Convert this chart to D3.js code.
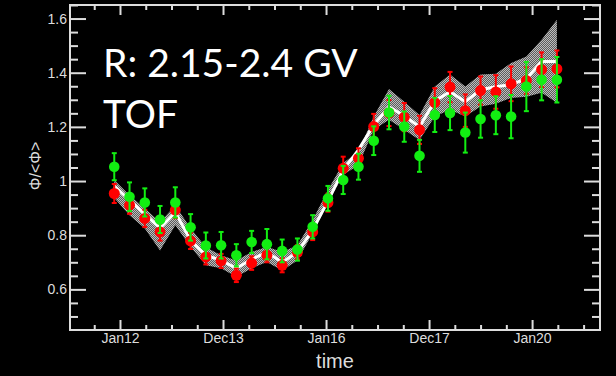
<!DOCTYPE html>
<html>
<head>
<meta charset="utf-8">
<script src="https://cdn.jsdelivr.net/npm/d3@7"></script>
<style>
body{margin:0;background:#000}
svg{display:block}
</style>
</head>
<body>
<svg id="canvas"></svg>
<script>
let width=616,height=376
let margin={left:70,right:16,top:5,bottom:46}

// bin centres in Bartels rotations (4 BR per bin)
const bartels = [2428.5,2432.5,2436.5,2440.5,2444.5,2448.5,2452.5,2456.5,2460.5,2464.5,
  2468.5,2472.5,2476.5,2480.5,2484.5,2488.5,2492.5,2496.5,2500.5,2504.5,
  2508.5,2512.5,2516.5,2520.5,2524.5,2528.5,2532.5,2536.5,2540.5,2544.5]

// red points
const redFlux = [0.954,0.911,0.862,0.812,0.893,0.779,0.720,0.705,0.652,0.697,
  0.726,0.689,0.737,0.812,0.920,1.047,1.084,1.201,1.251,1.236,
  1.189,1.290,1.347,1.260,1.334,1.329,1.359,1.371,1.411,1.414]
const redErr = [0.035,0.032,0.032,0.032,0.030,0.030,0.028,0.026,0.025,0.025,
  0.026,0.026,0.026,0.030,0.033,0.043,0.037,0.047,0.048,0.052,
  0.052,0.053,0.056,0.060,0.052,0.062,0.064,0.049,0.064,0.068]

// green points
const greenFlux = [1.053,0.942,0.921,0.858,0.921,0.829,0.762,0.763,0.726,0.775,
  0.767,0.742,0.747,0.831,0.936,1.004,1.053,1.149,1.253,1.201,
  1.093,1.244,1.251,1.179,1.229,1.243,1.238,1.349,1.374,1.374]
const greenErr = [0.050,0.053,0.052,0.050,0.056,0.049,0.048,0.049,0.041,0.041,
  0.056,0.042,0.041,0.043,0.046,0.052,0.048,0.053,0.062,0.056,
  0.059,0.063,0.063,0.074,0.069,0.070,0.080,0.091,0.076,0.084]

// white curve and grey band
const modelMid = [0.981,0.930,0.878,0.826,0.885,0.781,0.726,0.707,0.678,0.711,
  0.737,0.700,0.737,0.819,0.926,1.041,1.115,1.207,1.274,1.241,
  1.200,1.296,1.330,1.293,1.337,1.348,1.356,1.378,1.441,1.441]
const bandHigh = [1.004,0.948,0.900,0.848,0.911,0.826,0.756,0.726,0.707,0.738,
  0.757,0.738,0.763,0.856,0.967,1.067,1.109,1.238,1.340,1.293,
  1.244,1.349,1.393,1.349,1.393,1.396,1.436,1.460,1.522,1.596]
const bandLow = [0.937,0.874,0.825,0.744,0.837,0.757,0.689,0.678,0.646,0.678,
  0.701,0.670,0.707,0.807,0.919,1.022,1.059,1.189,1.226,1.189,
  1.152,1.238,1.263,1.238,1.275,1.285,1.307,1.311,1.326,1.289]

const xTicks = [2430,2457,2484,2511,2538]
const xTickLabels = ["Jan12","Dec13","Jan16","Dec17","Jan20"]
const yTicks = [0.6,0.8,1,1.2,1.4,1.6]

let svg = d3.select('#canvas').attr("width",width).attr("height",height)
svg.append("rect").attr("width",width).attr("height",height).style("fill","#000")

let x = d3.scaleLinear().domain([2416.9,2555.8]).range([margin.left,width-margin.right])
let y = d3.scaleLinear().domain([0.45,1.65]).range([height-margin.bottom,margin.top])

let pts = bartels.map((b,i)=>({b:b,red:redFlux[i],redE:redErr[i],green:greenFlux[i],greenE:greenErr[i],
  mid:modelMid[i],lo:bandLow[i],hi:bandHigh[i]}))

// checker pattern for the band
let pat = svg.append("defs").append("pattern").attr("id","chk")
  .attr("width",2).attr("height",2).attr("patternUnits","userSpaceOnUse")
pat.append("rect").attr("width",2).attr("height",2).style("fill","#5c5c5c")
pat.append("rect").attr("width",1).attr("height",1).style("fill","#bdbdbd")
pat.append("rect").attr("x",1).attr("y",1).attr("width",1).attr("height",1).style("fill","#bdbdbd")

svg.append("path").datum(pts)
  .attr("d",d3.area().x(d=>x(d.b)).y0(d=>y(d.lo)).y1(d=>y(d.hi)))
  .style("fill","url(#chk)")

svg.append("path").datum(pts)
  .attr("d",d3.line().x(d=>x(d.b)).y(d=>y(d.mid)))
  .style("fill","none").style("stroke","#fff").style("stroke-width",3)

let drawSeries = (key,errKey,col,r) => {
  let g = svg.append("g")
  g.selectAll(".bar").data(pts).enter().append("line")
    .attr("x1",d=>x(d.b)).attr("x2",d=>x(d.b))
    .attr("y1",d=>y(d[key]-d[errKey])).attr("y2",d=>y(d[key]+d[errKey]))
    .style("stroke",col).style("stroke-width",2)
  g.selectAll(".capT").data(pts).enter().append("line")
    .attr("x1",d=>x(d.b)-2.5).attr("x2",d=>x(d.b)+2.5)
    .attr("y1",d=>y(d[key]+d[errKey])).attr("y2",d=>y(d[key]+d[errKey]))
    .style("stroke",col).style("stroke-width",2)
  g.selectAll(".capB").data(pts).enter().append("line")
    .attr("x1",d=>x(d.b)-2.5).attr("x2",d=>x(d.b)+2.5)
    .attr("y1",d=>y(d[key]-d[errKey])).attr("y2",d=>y(d[key]-d[errKey]))
    .style("stroke",col).style("stroke-width",2)
  g.selectAll("circle").data(pts).enter().append("circle")
    .attr("cx",d=>x(d.b)).attr("cy",d=>y(d[key])).attr("r",r)
    .style("fill",col)
}
drawSeries("red","redE","#ff0000",5.5)
drawSeries("green","greenE","#12ee12",5.3)

// axes: ticks point inward on all four sides
let xMinor = d3.range(2423.25,2556,6.75).filter(v=>!xTicks.includes(v))
let yMinor = d3.range(0.5,1.66,0.05).filter(v=>!yTicks.some(t=>Math.abs(t-v)<1e-6))

let axisStyle = g => {
  g.select(".domain").remove()
  g.selectAll("line").style("stroke","#ddd").style("stroke-width",2)
  g.selectAll("text").style("fill","#ddd").style("font-family","'Liberation Sans', Arial, sans-serif").style("font-size","14px")
}
let bottomY = height-margin.bottom, rightX = width-margin.right

svg.append("g").attr("transform",`translate(0,${bottomY})`)
  .call(d3.axisBottom(x).tickValues(xMinor).tickSize(-5).tickFormat("")).call(axisStyle)
svg.append("g").attr("transform",`translate(0,${bottomY})`)
  .call(d3.axisBottom(x).tickValues(xTicks).tickSize(-10).tickPadding(3).tickFormat((d,i)=>xTickLabels[i])).call(axisStyle)
svg.append("g").attr("transform",`translate(0,${margin.top})`)
  .call(d3.axisTop(x).tickValues(xMinor).tickSize(-5).tickFormat("")).call(axisStyle)
svg.append("g").attr("transform",`translate(0,${margin.top})`)
  .call(d3.axisTop(x).tickValues(xTicks).tickSize(-10).tickFormat("")).call(axisStyle)

svg.append("g").attr("transform",`translate(${margin.left},0)`)
  .call(d3.axisLeft(y).tickValues(yMinor).tickSize(-8).tickFormat("")).call(axisStyle)
svg.append("g").attr("transform",`translate(${margin.left},0)`)
  .call(d3.axisLeft(y).tickValues(yTicks).tickSize(-16).tickPadding(3).tickFormat(d3.format("~g"))).call(axisStyle)
svg.append("g").attr("transform",`translate(${rightX},0)`)
  .call(d3.axisRight(y).tickValues(yMinor).tickSize(-8).tickFormat("")).call(axisStyle)
svg.append("g").attr("transform",`translate(${rightX},0)`)
  .call(d3.axisRight(y).tickValues(yTicks).tickSize(-16).tickFormat("")).call(axisStyle)

svg.append("rect").attr("x",margin.left).attr("y",margin.top)
  .attr("width",rightX-margin.left).attr("height",bottomY-margin.top)
  .style("fill","none").style("stroke","#ddd").style("stroke-width",2)

// titles
svg.append("text").attr("x",335).attr("y",368).attr("text-anchor","middle")
  .style("fill","#ddd").style("font-family","'Liberation Sans', Arial, sans-serif").style("font-size","20px")
  .text("time")
svg.append("text").attr("transform","translate(41,166) rotate(-90)").attr("text-anchor","middle")
  .style("fill","#ddd").style("font-family","'Liberation Sans', Arial, sans-serif").style("font-size","16px")
  .text("Φ/<Φ>")

svg.append("text").attr("x",103).attr("y",77)
  .style("fill","#fff").style("font-family","Lato, 'Open Sans', sans-serif").style("font-size","39px")
  .text("R: 2.15-2.4 GV")
svg.append("text").attr("x",103).attr("y",128)
  .style("fill","#fff").style("font-family","Lato, 'Open Sans', sans-serif").style("font-size","39px")
  .text("TOF")
</script>
</body>
</html>
